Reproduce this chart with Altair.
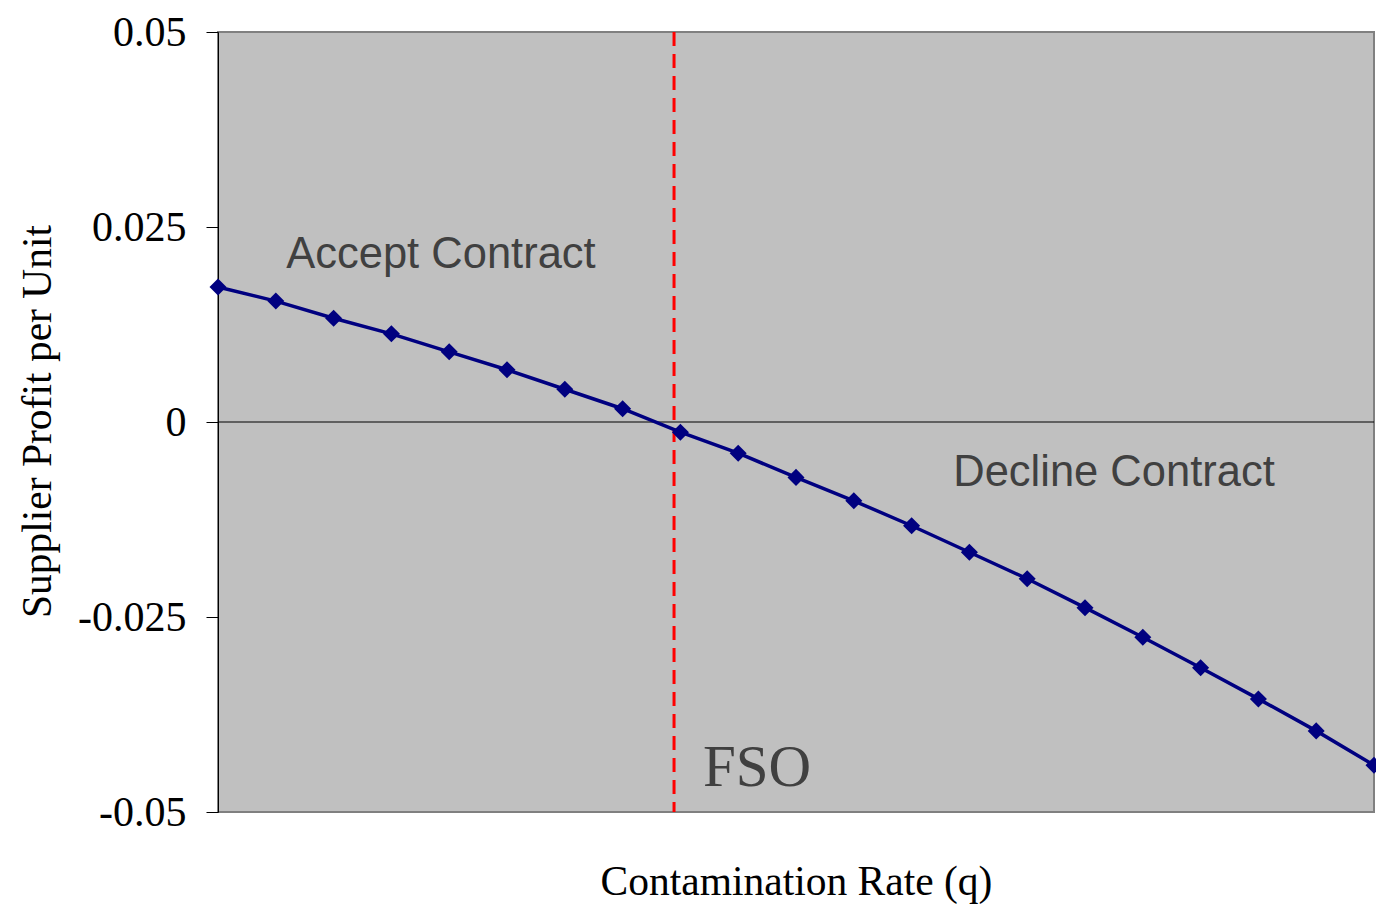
import altair as alt
import pandas as pd

q_index = list(range(21))
profit = [0.0173, 0.0155, 0.0133, 0.0113, 0.0090, 0.0067, 0.0042, 0.0017,
          -0.0013, -0.0040, -0.0071, -0.0101, -0.0133, -0.0167, -0.0201,
          -0.0238, -0.0276, -0.0315, -0.0355, -0.0396, -0.0440]
y_ticks = [0.05, 0.025, 0, -0.025, -0.05]
fso_x = [7.89]
region_labels = ["Accept Contract", "Decline Contract"]
region_x = [1.18, 12.72]
region_y = [0.0214, -0.0065]
fso_label = ["FSO"]
fso_label_x = [8.39]
fso_label_y = [-0.0443]

df = pd.DataFrame({"q": q_index, "profit": profit})
df_fso = pd.DataFrame({"q": fso_x})
df_regions = pd.DataFrame({"q": region_x, "profit": region_y, "label": region_labels})
df_fso_label = pd.DataFrame({"q": fso_label_x, "profit": fso_label_y, "label": fso_label})
df_zero = pd.DataFrame({"profit": [0]})

xscale = alt.Scale(domain=[0, 20], nice=False, zero=False)
yscale = alt.Scale(domain=[-0.05, 0.05], nice=False)

x_enc = alt.X("q:Q", scale=xscale,
              axis=alt.Axis(title="Contamination Rate (q)", labels=False, ticks=False,
                            domain=False, grid=False, titleFont="Liberation Serif",
                            titleFontSize=41.5, titleFontWeight="normal", titleColor="black",
                            titlePadding=49))
y_enc = alt.Y("profit:Q", scale=yscale,
              axis=alt.Axis(title="Supplier Profit per Unit", values=y_ticks,
                            labelExpr="'' + datum.value", grid=False,
                            domainColor="black", tickColor="black", tickSize=12,
                            labelFont="Liberation Serif", labelFontSize=42,
                            labelColor="black", labelPadding=20,
                            titleFont="Liberation Serif", titleFontSize=41.5,
                            titleFontWeight="normal", titleColor="black",
                            titleX=-180, titleY=389, titleAngle=270,
                            titleAlign="center", titleBaseline="middle"))

zero_rule = alt.Chart(df_zero).mark_rule(color="black", strokeWidth=1.2).encode(
    y=alt.Y("profit:Q", scale=yscale))

line = alt.Chart(df).mark_line(color="#000080", strokeWidth=3.5,
                               point=alt.OverlayMarkDef(shape="diamond", size=290,
                                                        color="#000080", filled=True,
                                                        opacity=1)).encode(
    x=x_enc, y=y_enc)

fso_rule = alt.Chart(df_fso).mark_rule(color="#FF0000", strokeWidth=3,
                                       strokeDash=[14, 8]).encode(
    x=alt.X("q:Q", scale=xscale))

region_text = alt.Chart(df_regions).mark_text(align="left", baseline="middle",
                                              font="Liberation Sans", fontSize=43.5,
                                              color="#404040").encode(
    x=alt.X("q:Q", scale=xscale), y=alt.Y("profit:Q", scale=yscale), text="label:N")

fso_text = alt.Chart(df_fso_label).mark_text(align="left", baseline="middle",
                                             font="Liberation Serif", fontSize=59,
                                             color="#404040").encode(
    x=alt.X("q:Q", scale=xscale), y=alt.Y("profit:Q", scale=yscale), text="label:N")

chart = alt.layer(zero_rule, fso_rule, line, region_text, fso_text).properties(
    width=1156, height=780,
    autosize=alt.AutoSizeParams(type="none"),
    padding={"left": 210, "top": 24, "right": 2, "bottom": 98},
    background="white",
).configure_view(fill="#C0C0C0", stroke="#808080", strokeWidth=2)

chart.save("out.html", embed_options={"renderer": "svg", "actions": False})
